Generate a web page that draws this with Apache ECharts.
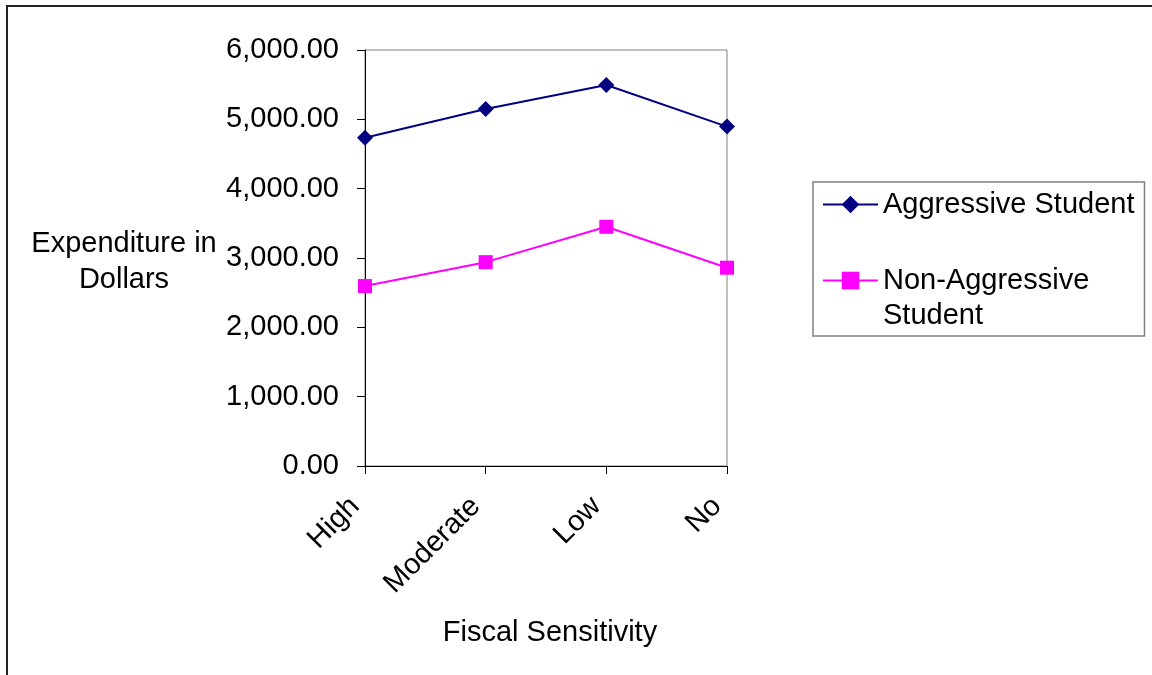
<!DOCTYPE html>
<html>
<head>
<meta charset="utf-8">
<script src="https://cdn.jsdelivr.net/npm/echarts@6/dist/echarts.min.js"></script>
<style>
html,body{margin:0;padding:0;background:#fff;}
#chart{width:1152px;height:675px;}
</style>
</head>
<body>
<div id="chart"></div>
<script>
const categories = ['High', 'Moderate', 'Low', 'No'];
const aggressive = [4735, 5150, 5495, 4895];
const nonAggressive = [2595, 2940, 3450, 2860];
const seriesNames = ['Aggressive Student', 'Non-Aggressive Student'];
const yTicks = { min: 0, max: 6000, interval: 1000 };

const FONT = '"Liberation Sans", Arial, sans-serif';
const chart = echarts.init(document.getElementById('chart'), null, { renderer: 'canvas' });

function fmt(v) {
  return v.toLocaleString('en-US', { minimumFractionDigits: 2, maximumFractionDigits: 2 });
}

chart.setOption({
  animation: false,
  backgroundColor: '#ffffff',
  grid: {
    left: 365, top: 50, right: 425, bottom: 209,
    show: true, borderColor: '#808080', borderWidth: 1, backgroundColor: 'transparent'
  },
  xAxis: {
    type: 'category',
    data: categories,
    boundaryGap: false,
    axisLine: { lineStyle: { color: '#000', width: 1 } },
    axisTick: { show: true, length: 8, lineStyle: { color: '#000' }, alignWithLabel: true },
    axisLabel: { rotate: 45, margin: 26, padding: [0, 14, 0, 0], color: '#000', fontFamily: FONT, fontSize: 29 },
    splitLine: { show: false }
  },
  yAxis: {
    type: 'value',
    min: yTicks.min, max: yTicks.max, interval: yTicks.interval,
    axisLine: { show: true, lineStyle: { color: '#000', width: 1 } },
    axisTick: { show: true, length: 8, lineStyle: { color: '#000' } },
    axisLabel: { margin: 26, color: '#000', fontFamily: FONT, fontSize: 29, formatter: fmt },
    splitLine: { show: false }
  },
  legend: {
    orient: 'vertical',
    left: 813, top: 182,
    padding: [5, 10, 3, 9],
    borderColor: '#808080', borderWidth: 1.5,
    itemWidth: 55, itemHeight: 22, itemGap: 6,
    textStyle: { color: '#000', fontFamily: FONT, fontSize: 29, lineHeight: 35 },
    data: [seriesNames[0], seriesNames[1]],
    formatter: function (n) { return n === 'Non-Aggressive Student' ? '\nNon-Aggressive\nStudent' : n; }
  },
  series: [
    {
      name: seriesNames[0], type: 'line', data: aggressive,
      symbol: 'diamond', symbolSize: 16, showSymbol: true,
      lineStyle: { color: '#000080', width: 2 },
      itemStyle: { color: '#000080' }
    },
    {
      name: seriesNames[1], type: 'line', data: nonAggressive,
      symbol: 'rect', symbolSize: 14, showSymbol: true,
      lineStyle: { color: '#FF00FF', width: 2 },
      itemStyle: { color: '#FF00FF' }
    }
  ],
  graphic: [
    { type: 'rect', shape: { x: 7, y: 6, width: 1300, height: 800 }, style: { fill: 'none', stroke: '#222', lineWidth: 2 }, silent: true, z: -1 },
    { type: 'text', x: 124, y: 262, style: { text: 'Expenditure in\nDollars', fill: '#000', font: '29px ' + FONT, lineHeight: 36, align: 'center', verticalAlign: 'middle' } },
    { type: 'text', x: 550, y: 633, style: { text: 'Fiscal Sensitivity', fill: '#000', font: '29px ' + FONT, align: 'center', verticalAlign: 'middle' } }
  ]
});
</script>
</body>
</html>
